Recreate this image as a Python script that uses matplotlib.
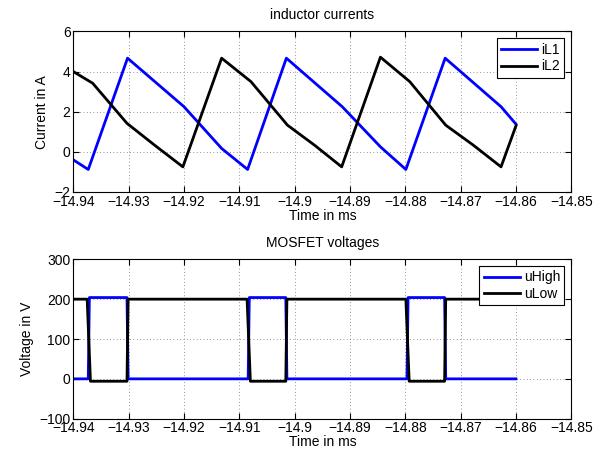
import matplotlib
matplotlib.use('Agg')
import matplotlib.pyplot as plt

plt.rcParams['font.family'] = ['Liberation Sans', 'DejaVu Sans']
plt.rcParams['font.size'] = 10

# inductor currents (breakpoints)
t_il1 = [-14.94, -14.9373, -14.9302, -14.9200, -14.9132, -14.9085,
         -14.9015, -14.8914, -14.8845, -14.8799, -14.8728, -14.8627, -14.86]
il1 = [-0.40, -0.88, 4.67, 2.25, 0.17, -0.88,
       4.67, 2.25, 0.25, -0.88, 4.67, 2.25, 1.38]

t_il2 = [-14.94, -14.9365, -14.9303, -14.9253, -14.9202, -14.9132,
         -14.9079, -14.9013, -14.8964, -14.8915, -14.8845, -14.8792,
         -14.8727, -14.8677, -14.8627, -14.86]
il2 = [4.0, 3.42, 1.42, 0.33, -0.75, 4.67,
       3.5, 1.33, 0.33, -0.75, 4.72, 3.5,
       1.33, 0.33, -0.75, 1.3]

# MOSFET voltages
t_uhigh = [-14.94, -14.9373, -14.9371, -14.9303, -14.9301, -14.9084, -14.9082,
           -14.9016, -14.9014, -14.8797, -14.8795, -14.8729, -14.8727, -14.86]
uhigh = [0, 0, 204, 204, 0, 0, 204, 204, 0, 0, 204, 204, 0, 0]

t_ulow = [-14.94, -14.9375, -14.9369, -14.9303, -14.9301, -14.9086, -14.9080,
          -14.9016, -14.9014, -14.8799, -14.8793, -14.8729, -14.8727, -14.86]
ulow = [200, 200, -6, -6, 200, 200, -6, -6, 200, 200, -6, -6, 200, 200]

xticks = [-14.94, -14.93, -14.92, -14.91, -14.9, -14.89, -14.88, -14.87, -14.86, -14.85]
xticklabels = ['-14.94', '-14.93', '-14.92', '-14.91', '-14.9', '-14.89',
               '-14.88', '-14.87', '-14.86', '-14.85']

fig = plt.figure(figsize=(6.01, 4.57), dpi=100)
ax1 = fig.add_axes([0.122, 0.58, 0.8286, 0.3511])
ax2 = fig.add_axes([0.122, 0.0838, 0.8286, 0.3488])


def style(ax):
    ax.set_xlim(-14.94, -14.85)
    ax.set_xticks(xticks)
    ax.set_xticklabels([s.replace('-', '\u2212') for s in xticklabels])
    ax.grid(True, color='0.45', linestyle=(0, (1, 3)), linewidth=0.6)
    ax.tick_params(direction='in', top=True, right=True, length=4,
                   width=0.8, pad=2, labelsize=10)
    for sp in ax.spines.values():
        sp.set_linewidth(0.8)


ax1.plot(t_il1, il1, color='#0000ff', lw=2, label='iL1')
ax1.plot(t_il2, il2, color='black', lw=2, label='iL2')
style(ax1)
ax1.set_ylim(-2, 6)
ax1.set_yticks([-2, 0, 2, 4, 6])
ax1.set_title('inductor currents', fontsize=10, pad=9)
ax1.set_xlabel('Time in ms', labelpad=0)
ax1.set_ylabel('Current in A', labelpad=4)
leg = ax1.legend(loc='upper right', fancybox=False, edgecolor='black',
                 framealpha=1, handlelength=2.6, borderpad=0.3,
                 labelspacing=0.2, handletextpad=0.3, borderaxespad=0.5)
leg.get_frame().set_linewidth(0.8)

ax2.plot(t_uhigh, uhigh, color='#0000ff', lw=2, label='uHigh')
ax2.plot(t_ulow, ulow, color='black', lw=2, label='uLow')
style(ax2)
ax2.set_ylim(-100, 300)
ax2.set_yticks([-100, 0, 100, 200, 300])
ax2.set_title('MOSFET voltages', fontsize=10, pad=9)
ax2.set_xlabel('Time in ms', labelpad=0)
ax2.set_ylabel('Voltage in V', labelpad=4)
leg = ax2.legend(loc='upper right', fancybox=False, edgecolor='black',
                 framealpha=1, handlelength=2.6, borderpad=0.3,
                 labelspacing=0.2, handletextpad=0.3, borderaxespad=0.5)
leg.get_frame().set_linewidth(0.8)

fig.savefig('out.png', dpi=100)
